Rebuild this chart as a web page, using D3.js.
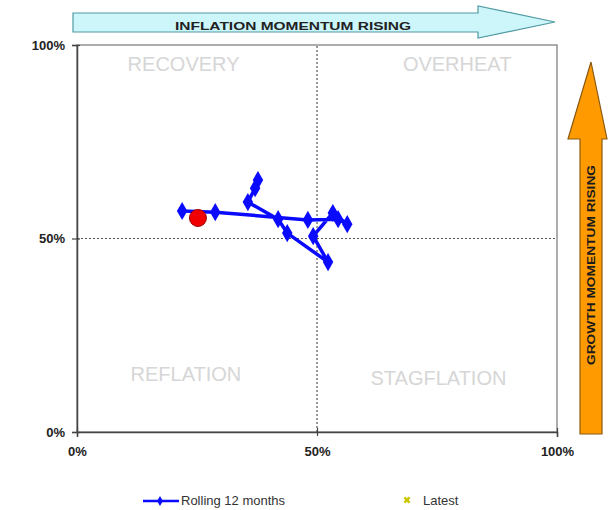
<!DOCTYPE html>
<html>
<head>
<meta charset="utf-8">
<script src="https://cdn.jsdelivr.net/npm/d3@7/dist/d3.min.js"></script>
<style>
  html, body { margin: 0; padding: 0; background: #fff; }
  svg { display: block; font-family: "Liberation Sans", Arial, sans-serif; }
</style>
</head>
<body>
<svg id="chart" width="608" height="510"></svg>
<script>
// Rolling 12-month path: inflation momentum (x, %) vs growth momentum (y, %)
const inflationMomentum = [37.7, 37.1, 35.6, 41.9, 43.8, 52.3, 49.2, 53.3, 56.3, 54.4, 48.1, 28.8, 21.9];
const growthMomentum    = [65.1, 63.0, 59.4, 55.0, 51.4, 43.9, 50.6, 56.6, 53.7, 55.0, 54.8, 56.8, 57.1];
const latestPoint = [25.2, 55.3];
const tickValues = [0, 50, 100];
const quadrantNames = ["RECOVERY", "OVERHEAT", "REFLATION", "STAGFLATION"];
const legendLabels = ["Rolling 12 months", "Latest"];
const arrowTitles = ["INFLATION  MOMENTUM  RISING", "GROWTH MOMENTUM RISING"];

const svg = d3.select("#chart");
const plot = { left: 77, right: 557, top: 45, bottom: 432 };

const x = d3.scaleLinear().domain([0, 100]).range([plot.left, plot.right]);
const y = d3.scaleLinear().domain([0, 100]).range([plot.bottom, plot.top]);

// Top arrow: inflation momentum
const topArrow = [[73, 13], [478, 13], [478, 6], [555, 22], [478, 38], [478, 32], [73, 32]];
svg.append("path")
  .attr("d", d3.line()(topArrow) + "Z")
  .attr("fill", "#ccf6fa")
  .attr("stroke", "#4f9aa3")
  .attr("stroke-width", 1.2);
svg.append("text")
  .attr("x", 175).attr("y", 30)
  .attr("textLength", 236).attr("lengthAdjust", "spacingAndGlyphs")
  .attr("font-size", 11).attr("font-weight", "bold").attr("fill", "#222")
  .text(arrowTitles[0]);

// Right arrow: growth momentum
const rightArrow = [[580, 434], [580, 139], [568, 139], [591, 62], [607, 139], [602, 139], [602, 434]];
svg.append("path")
  .attr("d", d3.line()(rightArrow) + "Z")
  .attr("fill", "#ff9a00")
  .attr("stroke", "#8a5a10")
  .attr("stroke-width", 1.2);
svg.append("text")
  .attr("transform", "translate(595,365) rotate(-90)")
  .attr("textLength", 200).attr("lengthAdjust", "spacingAndGlyphs")
  .attr("font-size", 10).attr("font-weight", "bold").attr("fill", "#1a1a1a")
  .text(arrowTitles[1]);

// Plot frame
svg.append("rect")
  .attr("x", plot.left).attr("y", plot.top)
  .attr("width", plot.right - plot.left).attr("height", plot.bottom - plot.top)
  .attr("fill", "#fff").attr("stroke", "#777").attr("stroke-width", 1.2);

// Quadrant dividers
svg.append("line")
  .attr("x1", x(50)).attr("x2", x(50)).attr("y1", y(0)).attr("y2", y(100))
  .attr("stroke", "#555").attr("stroke-width", 1.2).attr("stroke-dasharray", "2,2");
svg.append("line")
  .attr("x1", x(0)).attr("x2", x(100)).attr("y1", y(50)).attr("y2", y(50))
  .attr("stroke", "#555").attr("stroke-width", 1.2).attr("stroke-dasharray", "2,2");

// Quadrant names
const quadPos = [[22.2, 95, 0], [79.2, 95, 0], [22.7, 15, 1], [75.3, 14, 1]];
svg.selectAll("text.quad").data(quadrantNames).join("text")
  .attr("class", "quad")
  .attr("x", (d, i) => x(quadPos[i][0]))
  .attr("y", (d, i) => y(quadPos[i][1]) + 7)
  .attr("text-anchor", "middle")
  .attr("font-size", 20).attr("fill", "#d6d6d6")
  .text(d => d);

// Axes
const fmt = d => d + "%";
const xAxis = svg.append("g")
  .attr("transform", `translate(0,${plot.bottom})`)
  .call(d3.axisBottom(x).tickValues(tickValues).tickFormat(fmt).tickSize(5).tickPadding(10));
const yAxis = svg.append("g")
  .attr("transform", `translate(${plot.left},0)`)
  .call(d3.axisLeft(y).tickValues(tickValues).tickFormat(fmt).tickSize(5).tickPadding(7));
[xAxis, yAxis].forEach(g => {
  g.select(".domain").attr("stroke", "#444").attr("stroke-width", 1.5);
  g.selectAll(".tick line").attr("stroke", "#444").attr("stroke-width", 1.2);
  g.selectAll(".tick text").attr("font-size", 13).attr("font-weight", "bold")
    .attr("fill", "#222").attr("font-family", "Liberation Sans, Arial, sans-serif");
});
xAxis.selectAll(".tick line").attr("y1", -4).attr("y2", 4);
yAxis.selectAll(".tick line").attr("x1", -5).attr("x2", 3);

// Rolling path
const pts = inflationMomentum.map((v, i) => [v, growthMomentum[i]]);
svg.append("path")
  .datum(pts)
  .attr("d", d3.line().x(d => x(d[0])).y(d => y(d[1])))
  .attr("fill", "none").attr("stroke", "#0a0aff").attr("stroke-width", 3.5)
  .attr("stroke-linejoin", "round");
const diamond = d3.symbol().type(d3.symbolDiamond).size(95);
svg.selectAll("path.mk").data(pts).join("path")
  .attr("class", "mk")
  .attr("transform", d => `translate(${x(d[0])},${y(d[1])})`)
  .attr("d", diamond)
  .attr("fill", "#0a0aff");

// Latest observation
svg.append("circle")
  .attr("cx", x(latestPoint[0])).attr("cy", y(latestPoint[1]))
  .attr("r", 8.5)
  .attr("fill", "#f00000").attr("stroke", "#a00000").attr("stroke-width", 1);

// Legend
const lg = svg.append("g");
lg.append("line").attr("x1", 143).attr("x2", 179).attr("y1", 501).attr("y2", 501)
  .attr("stroke", "#0a0aff").attr("stroke-width", 2.5);
lg.append("path").attr("transform", "translate(160,501)")
  .attr("d", d3.symbol().type(d3.symbolDiamond).size(30)).attr("fill", "#0a0aff");
lg.append("text").attr("x", 181).attr("y", 505).attr("font-size", 13).attr("fill", "#333")
  .text(legendLabels[0]);
lg.append("path").attr("transform", "translate(407,500) rotate(45)")
  .attr("d", d3.symbol().type(d3.symbolCross).size(30)).attr("fill", "#c8c800");
lg.append("text").attr("x", 423).attr("y", 505).attr("font-size", 13).attr("fill", "#333")
  .text(legendLabels[1]);
</script>
</body>
</html>
